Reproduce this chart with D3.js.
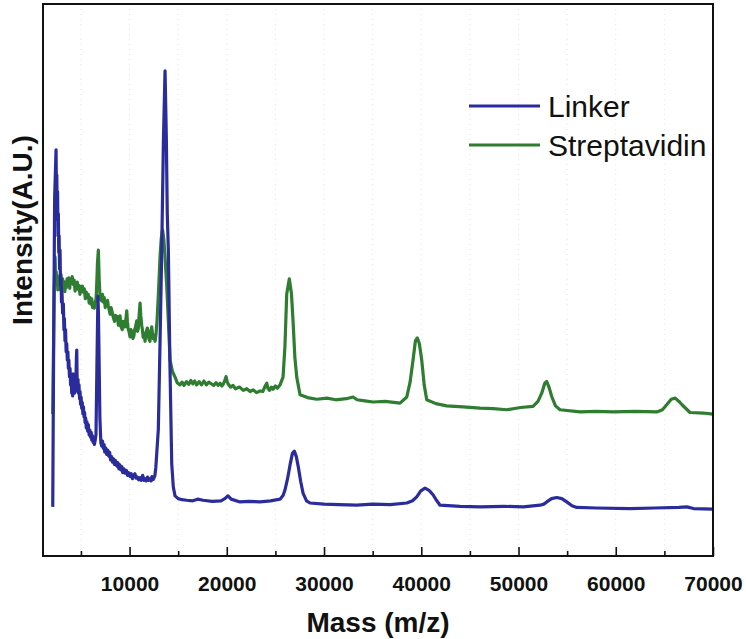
<!DOCTYPE html>
<html>
<head>
<meta charset="utf-8">
<script src="https://cdn.jsdelivr.net/npm/d3@7"></script>
<style>
  html, body { margin: 0; padding: 0; background: #fff; }
  svg { display: block; font-family: "Liberation Sans", Arial, sans-serif; }
</style>
</head>
<body>
<svg id="chart" width="746" height="639"></svg>
<script>
// MALDI-TOF spectra: mass (m/z) vs. relative intensity (arbitrary units)
const seriesNames = ["Linker", "Streptavidin"];
const seriesColors = ["#2b2c9c", "#2f7d30"];

const linkerMass = [2103,2200,2300,2442,2480,2520,2560,2600,2640,2679,2720,2760,2800,2853,2900,2950,3000,3050,3120,3193,3250,3300,3360,3420,3480,3540,3600,3660,3707,3760,3820,3880,3940,4000,4056,4100,4150,4200,4250,4300,4350,4400,4450,4500,4540,4571,4600,4640,4700,4750,4800,4860,4910,4960,5020,5080,5140,5200,5260,5320,5380,5424,5490,5550,5620,5700,5760,5850,5920,6000,6060,6113,6180,6250,6320,6380,6452,6550,6650,6750,6800,6850,6950,7050,7141,7220,7300,7380,7450,7540,7655,7750,7850,7950,8050,8150,8250,8350,8450,8560,8684,8800,8900,9000,9100,9200,9300,9420,9550,9680,9800,9920,10051,10180,10300,10430,10550,10680,10800,10940,11080,11200,11350,11480,11600,11720,11850,11980,12100,12220,12300,12447,12600,12700,12961,13150,13311,13480,13650,13780,13880,13990,14150,14339,14500,14679,15000,15400,15882,16500,17000,17558,18500,19400,19800,20129,20450,21363,22300,23420,24500,25476,25800,25990,26250,26504,26750,26946,27150,27358,27600,27841,28200,28561,30000,31500,33363,35000,36800,38505,39100,39533,39950,40386,40800,41209,41600,41929,44000,46042,48500,50500,52212,52600,52901,53400,53929,54450,54957,55500,55986,58000,61466,64000,66500,67297,68000,70000];
const linkerIntensity = [8.9,40,65,73.6,66,69,61,66,58,62,55,58,52,55.4,49,51,46,48,44,45.7,41,43,39,41,37,38.5,35.5,37,34,35.5,32.5,34,31,32,29.5,31.5,29,33,30,32.5,29.5,31,29.8,33,36,37.3,33,30.5,32,29.5,31,28.5,29.8,27.5,28.8,26.8,27.8,25.8,27,25.2,26,24.2,25,23.2,24.3,22.6,23.8,21.9,22.8,21.5,22.4,21.0,21.8,20.6,21.4,20.2,20.8,22,35,47.1,44,38,25,20.5,19.9,20.8,19.5,20.2,18.8,19.6,18.4,19.2,18.1,18.8,17.4,18.0,17.0,17.6,16.6,17.3,16.3,16.9,15.8,16.5,15.6,16.2,15.1,15.8,15.0,15.5,14.6,15.1,14.4,14.9,14.0,14.6,14.9,14.1,14.3,13.8,14.2,13.7,14.6,13.7,14.0,13.6,14.3,13.7,14.0,13.6,14.4,13.9,14.5,16,23,40,55.4,75,87.9,76,62,55.4,35,16.7,12.5,10.9,10.4,10.2,10.1,10.0,10.3,10.1,9.9,10.0,10.4,10.9,10.3,9.8,9.9,9.8,10.0,10.3,11.0,12.0,14.0,16.5,18.6,19.0,18.0,16.1,13.5,11.4,10.0,9.6,9.4,9.3,9.2,9.4,9.3,9.6,10.0,10.7,11.8,12.3,11.9,11.1,10.0,9.2,9.0,8.9,9.0,8.9,9.2,9.4,9.8,10.4,10.6,10.4,9.8,9.1,8.8,8.7,8.6,8.7,8.8,8.9,8.6,8.5];

const streptMass = [2103,2250,2339,2400,2460,2514,2570,2620,2680,2750,2820,2900,2970,3050,3120,3193,3270,3350,3420,3500,3580,3677,3760,3850,3920,4000,4100,4221,4300,4400,4480,4550,4630,4705,4800,4900,4980,5050,5150,5249,5350,5450,5550,5650,5750,5850,5950,6050,6113,6200,6300,6380,6452,6550,6600,6700,6792,6880,6950,7000,7070,7141,7220,7300,7400,7500,7580,7650,7740,7820,7900,8000,8100,8200,8320,8450,8560,8684,8770,8850,8940,9023,9120,9250,9330,9400,9470,9537,9620,9712,9780,9850,9950,10051,10150,10250,10350,10450,10520,10600,10680,10740,10820,10900,10980,11080,11160,11250,11330,11400,11500,11594,11680,11750,11830,11902,12000,12100,12190,12283,12370,12450,12540,12622,12720,12828,12980,13136,13260,13393,13520,13650,13820,13990,14165,14400,14679,14900,15193,15400,15600,15850,16100,16300,16500,16700,16910,17150,17400,17650,17900,18150,18400,18650,18900,19100,19306,19500,19650,19800,19923,20050,20200,20400,20643,20900,21300,21700,22052,22400,22700,23050,23420,23700,23900,24109,24250,24400,24600,24756,25000,25200,25476,25785,25980,26165,26432,26650,26813,27000,27193,27533,28300,29250,30300,31200,32300,32983,33400,34200,35040,36300,37816,38505,38850,39153,39400,39595,39800,40047,40300,40561,41500,42618,44300,46042,47400,48788,50200,51492,52000,52387,52700,52901,53150,53415,53800,54269,56325,58000,59718,62000,64212,64800,65240,65700,66115,66500,66814,67636,69000,70000];
const streptIntensity = [25.7,48,54.2,50,51.5,49.6,50.8,48.2,50,48.6,50.2,48.2,49.8,48.6,50.2,48.4,49.7,47.9,49.4,48.6,50.2,49.2,50.4,48.5,50.0,49.4,50.6,49.2,50.0,48.0,49.5,48.6,49.6,48.3,49.0,47.4,48.8,47.9,48.9,47.8,48.4,46.6,47.8,46.9,47.4,45.8,46.8,45.6,46.6,45.0,45.8,44.9,45.9,46.5,48,53,55.4,50,47.5,46.5,47.3,46.2,47.4,46.0,46.8,45.0,46.0,45.4,46.3,45.3,44.6,43.8,45.0,44.3,43.3,42.5,43.6,42.8,43.4,41.8,42.7,43.5,41.5,41.0,42.5,41.8,42.4,41.5,42.8,44.4,42.5,41.2,40.6,39.7,41.0,40.5,39.4,39.9,41.0,41.4,42.1,42.6,40.7,41.2,43.5,45.8,43.5,41.8,40.9,39.6,40.4,38.9,40.0,40.8,41.3,40.6,39.3,38.9,40.6,41.5,40.0,39.4,40.0,38.9,40.2,42.6,48,54.2,57.5,59.1,57.5,54.2,49,42.6,35.5,33.5,32.4,31.4,31.0,31.5,30.9,31.6,31.1,31.8,31.2,31.7,31.0,31.6,31.0,31.7,31.0,31.5,31.2,30.9,31.4,30.9,31.3,30.8,31.2,31.8,32.5,31.5,31.0,30.6,30.9,30.3,30.6,30.0,30.3,29.8,30.1,29.6,29.9,29.8,30.6,31.3,30.3,30.0,30.6,30.2,30.8,30.4,31.0,32.4,38,47.5,50.2,47.5,42.6,36,32.4,29.2,28.7,28.4,28.6,28.3,28.5,28.8,28.3,28.1,27.9,28.0,27.7,28.8,31.5,35.5,39.0,39.5,38.5,35.5,31,28.3,27.6,27.2,27.0,26.8,26.7,26.5,26.9,27.1,28.0,29.5,31.3,31.6,30.5,28.9,27.2,26.5,26.1,26.2,26.1,26.2,26.1,26.5,27.4,28.4,28.6,28.0,27.4,26.0,25.9,25.7];

const majorTicks = [10000, 20000, 30000, 40000, 50000, 60000, 70000];
const minorTicks = [5000, 15000, 25000, 35000, 45000, 55000, 65000];
const xDomain = [1100, 70000];
const yDomain = [0, 100];

const svg = d3.select("#chart");
const plot = { left: 43, right: 713, top: 4, bottom: 556 };

const x = d3.scaleLinear().domain(xDomain).range([plot.left, plot.right]);
const y = d3.scaleLinear().domain(yDomain).range([plot.bottom, plot.top]);

// faint dotted guides at each tick position
svg.append("g")
  .selectAll("line")
  .data(majorTicks.concat(minorTicks).filter(d => d < 70000))
  .join("line")
  .attr("x1", d => x(d)).attr("x2", d => x(d))
  .attr("y1", plot.top).attr("y2", plot.bottom)
  .attr("stroke", "#e4e4e4")
  .attr("stroke-width", 1)
  .attr("stroke-dasharray", "1,4");

// spectra
const line = d3.line().x(d => x(d[0])).y(d => y(d[1]));
const series = [
  d3.zip(linkerMass, linkerIntensity),
  d3.zip(streptMass, streptIntensity)
];
// Linker drawn last so it sits on top where the traces overlap
[1, 0].forEach(i => {
  svg.append("path")
    .datum(series[i])
    .attr("fill", "none")
    .attr("stroke", seriesColors[i])
    .attr("stroke-width", 3.2)
    .attr("stroke-linejoin", "round")
    .attr("d", line);
});

// bottom axis with inward ticks
const xAxis = svg.append("g").attr("transform", `translate(0,${plot.bottom})`)
  .call(d3.axisBottom(x).tickValues(majorTicks).tickSizeInner(-9).tickSizeOuter(0)
    .tickFormat(d3.format("d")).tickPadding(20));
xAxis.select(".domain").remove();
xAxis.selectAll(".tick line").attr("stroke", "#111").attr("stroke-width", 1.6);
xAxis.selectAll(".tick text")
  .attr("font-family", "'Liberation Sans', Arial, sans-serif")
  .attr("font-size", 21).attr("font-weight", "bold").attr("fill", "#111");

const xMinor = svg.append("g").attr("transform", `translate(0,${plot.bottom})`)
  .call(d3.axisBottom(x).tickValues(minorTicks).tickSizeInner(-5).tickSizeOuter(0).tickFormat(""));
xMinor.select(".domain").remove();
xMinor.selectAll(".tick line").attr("stroke", "#111").attr("stroke-width", 1.6);

// frame
svg.append("rect")
  .attr("x", plot.left).attr("y", plot.top)
  .attr("width", plot.right - plot.left).attr("height", plot.bottom - plot.top)
  .attr("fill", "none").attr("stroke", "#111").attr("stroke-width", 2);

// axis titles
svg.append("text")
  .attr("x", 378).attr("y", 632)
  .attr("text-anchor", "middle")
  .attr("font-size", 28).attr("font-weight", "bold").attr("fill", "#111")
  .text("Mass (m/z)");

svg.append("text")
  .attr("transform", "translate(32,230) rotate(-90)")
  .attr("text-anchor", "middle")
  .attr("font-size", 28).attr("font-weight", "bold").attr("fill", "#111")
  .text("Intensity(A.U.)");

// legend
const legend = svg.append("g");
seriesNames.forEach((name, i) => {
  const ly = 106 + i * 39;
  legend.append("line")
    .attr("x1", 469).attr("x2", 540).attr("y1", ly).attr("y2", ly)
    .attr("stroke", seriesColors[i]).attr("stroke-width", 2.8);
  legend.append("text")
    .attr("x", 548).attr("y", ly + 11)
    .attr("font-size", 30).attr("fill", "#111")
    .text(name);
});
</script>
</body>
</html>
